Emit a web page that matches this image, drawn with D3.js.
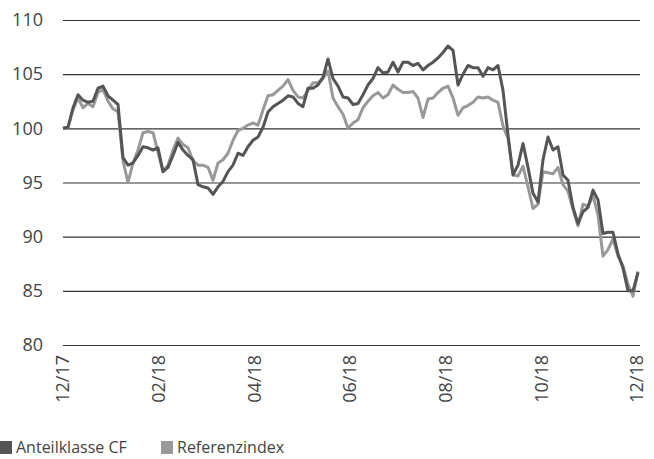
<!DOCTYPE html>
<html lang="de">
<head>
    <meta charset="UTF-8">
    <title>Anteilklasse CF vs Referenzindex</title>
    <script src="https://cdn.jsdelivr.net/npm/d3@7"></script>
    <style>
        body { margin: 0; background: #fff; }
        text { font-family: "Open Sans", sans-serif; fill: #444; }
    </style>
</head>
<body>
<script>
    const monthLabels = ['12/17', '02/18', '04/18', '06/18', '08/18', '10/18', '12/18']
    const yTicks = [80, 85, 90, 95, 100, 105, 110]
    const seriesNames = ['Anteilklasse CF', 'Referenzindex']

    // Anteilklasse CF
    const cf = [
        100.0, 100.1, 101.9, 103.1, 102.6, 102.4, 102.5, 103.7, 103.9, 103.0,
        102.6, 102.2, 97.3, 96.6, 96.8, 97.5, 98.3, 98.2, 98.0, 98.2,
        96.0, 96.4, 97.5, 98.7, 98.0, 97.5, 97.1, 94.8, 94.6, 94.5,
        93.9, 94.6, 95.1, 96.0, 96.6, 97.7, 97.5, 98.3, 98.9, 99.2,
        100.1, 101.5, 102.0, 102.3, 102.6, 103.0, 102.9, 102.3, 102.0, 103.7,
        103.7, 104.0, 104.7, 106.4, 104.6, 103.9, 102.9, 102.8, 102.2, 102.3,
        103.1, 104.0, 104.6, 105.6, 105.1, 105.2, 106.1, 105.2, 106.1, 106.1,
        105.8, 106.0, 105.4, 105.8, 106.1, 106.5, 107.0, 107.6, 107.2, 104.0,
        105.0, 105.8, 105.6, 105.6, 104.8, 105.6, 105.4, 105.8, 103.5, 99.4,
        95.7, 96.6, 98.6, 96.4, 94.0, 93.2, 97.1, 99.2, 98.0, 98.3,
        95.7, 95.2, 92.7, 91.2, 92.3, 92.7, 94.3, 93.4, 90.3, 90.4,
        90.4, 88.4, 87.1, 85.0, 85.0, 86.7
    ]
    // Referenzindex
    const ref = [
        100.0, 100.1, 101.7, 102.8, 101.9, 102.3, 102.0, 103.3, 103.6, 102.5,
        101.8, 101.5, 97.0, 95.0, 96.8, 98.0, 99.6, 99.7, 99.6, 97.8,
        96.0, 96.6, 98.0, 99.1, 98.5, 98.2, 97.0, 96.6, 96.6, 96.4,
        95.2, 96.8, 97.1, 97.7, 98.9, 99.8, 100.0, 100.3, 100.5, 100.3,
        101.7, 103.0, 103.1, 103.5, 103.9, 104.5, 103.5, 102.9, 102.8, 103.5,
        104.2, 104.2, 104.6, 105.3, 102.8, 102.0, 101.3, 100.0, 100.5, 100.8,
        101.9, 102.5, 103.0, 103.3, 102.8, 103.1, 104.0, 103.6, 103.3, 103.3,
        103.4, 102.8, 101.0, 102.7, 102.8, 103.3, 103.7, 103.9, 102.8, 101.2,
        101.9, 102.1, 102.4, 102.9, 102.8, 102.9, 102.6, 102.4, 100.2, 99.1,
        95.7, 95.6, 96.5, 94.6, 92.6, 93.0, 96.0, 95.9, 95.8, 96.4,
        94.8, 94.2, 92.5, 91.0, 93.0, 92.8, 93.8, 92.0, 88.2, 88.8,
        89.8, 88.2, 87.3, 85.6, 84.5, 86.8
    ]

    const [width, height] = [654, 459]
    const margin = {left: 63, right: 14, top: 20, bottom: 114}
    const colors = ['#555555', '#999999']

    const svg = d3.select('body').append('svg')
        .attr('width', width)
        .attr('height', height)

    const x = d3.scaleLinear()
        .domain([0, cf.length - 1])
        .range([margin.left, 638])
    const xLabels = d3.scalePoint()
        .domain(monthLabels)
        .range([margin.left, 637])
    const y = d3.scaleLinear()
        .domain([80, 110])
        .range([height - margin.bottom, margin.top])

    // Gitterlinien + y-Achse
    const yAxis = d3.axisLeft(y)
        .tickValues(yTicks)
        .tickSize(-(width - margin.right - margin.left))
        .tickPadding(20)
    svg.append('g')
        .attr('transform', `translate(${margin.left}, 0)`)
        .call(yAxis)
        .call(g => g.select('.domain').remove())
        .call(g => g.selectAll('line').attr('stroke', '#333').attr('stroke-width', 1.2))
        .call(g => g.selectAll('text').attr('font-size', 18).attr('font-family', null).style('fill', '#444'))

    // x-Beschriftungen (gedreht)
    svg.append('g')
        .selectAll('text')
        .data(monthLabels)
        .enter()
        .append('text')
        .attr('transform', d => `translate(${xLabels(d)}, ${y(80) + 10}) rotate(-90)`)
        .attr('text-anchor', 'end')
        .attr('dy', '0.35em')
        .attr('font-size', 18)
        .text(d => d)

    const line = d3.line()
        .x((d, i) => x(i))
        .y(d => y(d))

    // Referenz zuerst, Fonds darüber
    svg.append('path')
        .datum(ref)
        .attr('fill', 'none')
        .attr('stroke', colors[1])
        .attr('stroke-width', 3)
        .attr('stroke-linejoin', 'round')
        .attr('d', line)
    svg.append('path')
        .datum(cf)
        .attr('fill', 'none')
        .attr('stroke', colors[0])
        .attr('stroke-width', 3)
        .attr('stroke-linejoin', 'round')
        .attr('d', line)

    // Legende
    const legend = svg.append('g').attr('transform', 'translate(0, 441)')
    const legendX = [0, 161]
    seriesNames.forEach((name, i) => {
        legend.append('rect')
            .attr('x', legendX[i])
            .attr('y', 0)
            .attr('width', 12)
            .attr('height', 13)
            .attr('fill', colors[i])
        legend.append('text')
            .attr('x', legendX[i] + 16)
            .attr('y', 12)
            .attr('font-size', 16)
            .text(name)
    })
</script>
</body>
</html>
